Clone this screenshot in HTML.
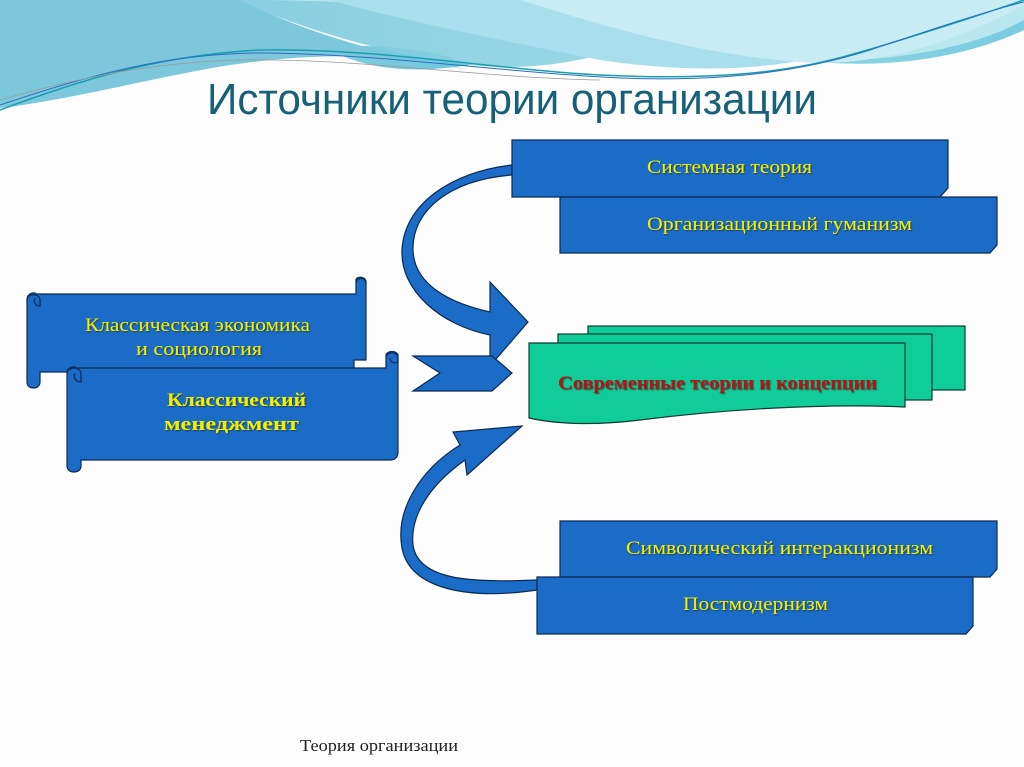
<!DOCTYPE html>
<html><head><meta charset="utf-8"><style>
html,body{margin:0;padding:0;background:#fff;}
svg{display:block}
</style></head><body>
<svg width="1024" height="767" viewBox="0 0 1024 767" xmlns="http://www.w3.org/2000/svg">
<defs>
<linearGradient id="g1" x1="0" y1="0" x2="1" y2="0">
<stop offset="0" stop-color="#7ec9de"/><stop offset="0.5" stop-color="#8fd3e4"/><stop offset="1" stop-color="#6cc6dd"/></linearGradient>
<filter id="sh"><feDropShadow dx="1" dy="1" stdDeviation="0.6" flood-color="#333" flood-opacity="0.8"/></filter>
</defs>
<rect width="1024" height="767" fill="#fdfdfd"/>
<path d="M0,0 H236 C280,15 300,35 340,55 C380,72 420,72 470,65 C420,40 300,40 200,60 C120,75 50,95 0,105Z" fill="url(#g1)"/>
<path d="M236,0 H1024 V30 C960,60 880,70 800,60 C720,52 660,40 600,55 C560,65 520,70 470,65 C400,55 330,40 236,0Z" fill="url(#g1)" opacity="0.9"/>
<path d="M240,0 C300,30 380,55 470,70 C380,50 300,55 230,65 C150,78 70,100 0,108 V0Z" fill="#7cc7dc"/>
<path d="M255,0 H1024 V20 C970,50 880,65 780,60 C660,55 560,30 470,15 C400,5 330,0 255,0Z" fill="#b8e7ef"/>
<path d="M330,0 C400,20 500,40 600,60 C700,75 790,70 860,45 C920,25 980,10 1024,0Z" fill="#a9dfec"/>
<path d="M520,0 C600,25 700,55 800,62 C880,68 960,40 1024,5 V0Z" fill="#c7ecf3"/>
<path d="M0,110 C80,80 160,55 260,50 C380,48 500,70 600,75 C700,80 780,75 850,55 C920,35 980,15 1024,0" fill="none" stroke="#1a9fb0" stroke-width="1.5"/>
<path d="M0,105 C90,75 170,52 270,53 C390,55 500,72 620,78 C720,82 800,72 870,50 C930,30 990,10 1024,2" fill="none" stroke="#2a6fc0" stroke-width="1"/>
<path d="M0,100 C70,80 150,62 240,60 C360,58 480,78 600,80" fill="none" stroke="#999" stroke-width="0.8"/>
<text x="512" y="114" text-anchor="middle" font-family="Liberation Sans Narrow, Liberation Sans, sans-serif" font-size="44" fill="#17607a" textLength="610" lengthAdjust="spacingAndGlyphs">Источники теории организации</text>

<g stroke="#0b2a55" stroke-width="1.2" fill="#1a6cc6">
<path d="M512,175 C450,180 412,210 413,250 C414,285 450,303 490,312 L490,282 L528,322 L490,366 L490,335 C440,325 400,290 402,250 C404,205 450,172 512,165Z"/>
<path d="M537,590 C470,600 410,590 402,548 C395,510 420,470 460,445 L453,432 L522,426 L467,475 L465,460 C430,485 410,515 413,545 C418,580 470,583 537,580Z"/>
<path d="M413,356 H492 L512,373 L492,391 H413 L440,373Z"/>
<path d="M36,294 H356 V280 C356,276 366,276 366,282 V360 H354 V372 H40 V382 C40,390 27,390 27,382 V300 C27,292 36,292 36,294Z"/>
<path d="M27,300 C27,293 40,293 40,300 L40,306 C36,306 33,303 35,298" fill="none"/>
<path d="M356,283 C356,277 366,277 366,283" fill="none"/>
<path d="M76,368 H386 V356 C386,350 398,350 398,356 V452 C398,458 394,460 390,460 H81 V466 C81,474 67,474 67,466 V374 C67,366 76,366 76,368Z"/>
<path d="M67,374 C67,366 81,366 81,374 V382 C76,382 73,378 75,373" fill="none"/>
<path d="M386,358 C386,351 398,351 398,358 L398,362 C394,364 390,362 390,358" fill="none"/>
<path d="M512,140 H948 V188 L940,197 H512Z"/>
<path d="M560,197 H997 V245 L990,253 H560Z"/>
<path d="M560,521 H997 V569 L990,577 H560Z"/>
<path d="M537,577 H973 V626 L966,634 H537Z"/>
</g>
<g stroke="#0b3a30" stroke-width="1.2" fill="#10cc98">
<rect x="588" y="326" width="377" height="64"/>
<rect x="558" y="334" width="374" height="66"/>
<path d="M529,343 H905 V407 C820,403 720,410 640,420 C600,425 560,425 529,418Z"/>
</g>
<g font-family="Liberation Serif, serif" fill="#f0f000" filter="url(#sh)" font-size="19" lengthAdjust="spacingAndGlyphs">
<text x="85" y="331" textLength="225" lengthAdjust="spacingAndGlyphs">Классическая экономика</text>
<text x="136" y="355" textLength="126" lengthAdjust="spacingAndGlyphs">и социология</text>
<text x="167" y="406" font-weight="bold" textLength="139" lengthAdjust="spacingAndGlyphs">Классический</text>
<text x="164" y="430" font-weight="bold" textLength="135" lengthAdjust="spacingAndGlyphs">менеджмент</text>
<text x="647" y="173" textLength="165" lengthAdjust="spacingAndGlyphs">Системная теория</text>
<text x="647" y="230" textLength="265" lengthAdjust="spacingAndGlyphs">Организационный гуманизм</text>
<text x="626" y="554" textLength="307" lengthAdjust="spacingAndGlyphs">Символический интеракционизм</text>
<text x="683" y="610" textLength="145" lengthAdjust="spacingAndGlyphs">Постмодернизм</text>
</g>
<text x="558" y="389" font-family="Liberation Serif, serif" font-size="19" font-weight="bold" fill="#b01818" filter="url(#sh)" textLength="319" lengthAdjust="spacingAndGlyphs">Современные теории и концепции</text>
<text x="300" y="751" font-family="Liberation Serif, serif" font-size="17" fill="#222" textLength="158" lengthAdjust="spacingAndGlyphs">Теория организации</text>
</svg>
</body></html>
